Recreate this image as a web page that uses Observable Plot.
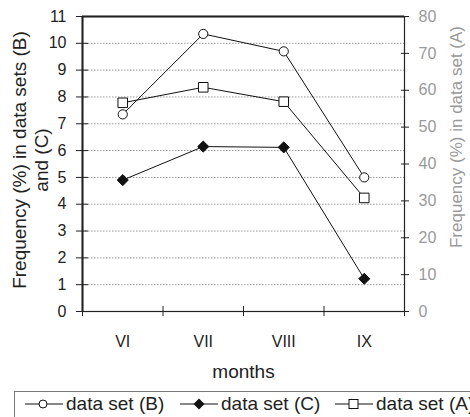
<!DOCTYPE html>
<html>
<head>
<meta charset="utf-8">
<script src="https://cdn.jsdelivr.net/npm/d3@7"></script>
<script src="https://cdn.jsdelivr.net/npm/@observablehq/plot@0.6"></script>
<style>
  html, body { margin: 0; padding: 0; background: #fff; overflow: hidden; width: 470px; height: 417px; position: relative; }
  body { font-family: "Liberation Sans", Arial, sans-serif; }
  #chart svg { display: block; }
  .legend { position: absolute; left: 14px; top: 391px; width: 520px; height: 40px; border: 1px solid #777; box-sizing: border-box; font-size: 19px; color: #222; }
  .item { position: absolute; top: 0; height: 24px; display: flex; align-items: center; white-space: nowrap; }
  .item svg { margin-right: 2px; }
</style>
</head>
<body>
<div id="chart"></div>
<div class="legend" id="legend"></div>
<script>
const months = ["VI", "VII", "VIII", "IX"];
const setB = [7.35, 10.35, 9.7, 5.0];     // left axis
const setC = [4.9, 6.15, 6.12, 1.22];     // left axis
const setA = [56.6, 60.8, 56.9, 30.8];    // right axis
const leftTicks = [0, 1, 2, 3, 4, 5, 6, 7, 8, 9, 10, 11];
const rightTicks = [0, 10, 20, 30, 40, 50, 60, 70, 80];
const seriesNames = ["data set (B)", "data set (C)", "data set (A)"];

const LEFT_MAX = 11, RIGHT_MAX = 80;
const toLeft = v => v * LEFT_MAX / RIGHT_MAX;

const rows = (vals, key) => vals.map((v, i) => ({i: i + 0.5, v, key}));
const dB = rows(setB, "B");
const dC = rows(setC, "C");
const dA = rows(setA.map(toLeft), "A");

const font = '"Liberation Sans", Arial, sans-serif';

const chart = Plot.plot({
  width: 470,
  height: 390,
  marginTop: 16,
  marginBottom: 79,
  marginLeft: 82,
  marginRight: 66,
  style: {fontFamily: font, fontSize: "16px", color: "#222", background: "#fff"},
  x: {type: "linear", domain: [0, months.length], axis: null},
  y: {domain: [0, LEFT_MAX], axis: null},
  marks: [
    Plot.gridY(leftTicks.filter(t => t > 0 && t < LEFT_MAX), {stroke: "#999", strokeOpacity: 1, strokeDasharray: "1.5,1.5"}),
    Plot.frame({stroke: "#222", strokeWidth: 1.2}),
    Plot.ruleX([0], {stroke: "#222", strokeWidth: 2}),
    Plot.ruleY([LEFT_MAX], {stroke: "#222", strokeWidth: 2}),
    // left axis (crossing ticks)
    Plot.axisY(leftTicks, {anchor: "left", tickSize: 12, dx: 6, tickPadding: 10, stroke: "#222", fill: "#222", label: null, fontSize: 16}),
    // right axis (set A)
    Plot.axisY(rightTicks.map(toLeft), {anchor: "right", tickSize: 8, dx: -4, tickPadding: 10, stroke: "#222", fill: "#999", label: null, fontSize: 16,
      tickFormat: d => String(Math.round(d * RIGHT_MAX / LEFT_MAX))}),
    // bottom crossing ticks at category boundaries
    Plot.axisX(d3.range(0, months.length + 1), {anchor: "bottom", tickSize: 10, dy: -5, tickFormat: () => "", stroke: "#222", label: null}),
    // month labels
    Plot.axisX(months.map((m, i) => i + 0.5), {anchor: "bottom", tickSize: 0, tickPadding: 24, tickFormat: d => months[Math.floor(d)], fill: "#222", label: null, fontSize: 16}),
    // titles
    Plot.text(["months"], {frameAnchor: "bottom", dy: 60, fontSize: 19, fill: "#222", lineAnchor: "middle", textAnchor: "middle"}),
    Plot.text(["Frequency (%) in data sets (B)\nand (C)"], {frameAnchor: "left", dx: -53, dy: -4, rotate: -90, lineHeight: 1.16, fontSize: 19, fill: "#222", lineAnchor: "middle", textAnchor: "middle"}),
    Plot.text(["Frequency (%) in data set (A)"], {frameAnchor: "right", dx: 52, dy: -27, rotate: -90, fontSize: 17, fill: "#999", lineAnchor: "middle", textAnchor: "middle"}),
    // series
    Plot.line(dB, {x: "i", y: "v", stroke: "#111", strokeWidth: 1}),
    Plot.line(dA, {x: "i", y: "v", stroke: "#111", strokeWidth: 1}),
    Plot.line(dC, {x: "i", y: "v", stroke: "#111", strokeWidth: 1}),
    Plot.dot(dB, {x: "i", y: "v", symbol: "circle", r: 4.6, fill: "#fff", stroke: "#111", strokeWidth: 1}),
    Plot.dot(dA, {x: "i", y: "v", symbol: "square", r: 5.4, fill: "#fff", stroke: "#111", strokeWidth: 1}),
    Plot.dot(dC, {x: "i", y: "v", symbol: "diamond2", r: 5, fill: "#111", stroke: "#111", strokeWidth: 1})
  ]
});
document.getElementById("chart").appendChild(chart);

// legend
const legend = document.getElementById("legend");
const symbols = {
  B: '<circle cx="18" cy="7" r="4" fill="#fff" stroke="#111"/>',
  C: '<path d="M19,1.5 L24.5,7 L19,12.5 L13.5,7 Z" fill="#111"/>',
  A: '<rect x="14" y="2.5" width="9" height="9" fill="#fff" stroke="#111"/>'
};
const keys = ["B", "C", "A"];
const lefts = [10, 165, 320];
keys.forEach((k, j) => {
  const it = document.createElement("div");
  it.className = "item";
  it.style.left = lefts[j] + "px";
  it.innerHTML = '<svg width="39" height="14"><line x1="0" y1="7" x2="38" y2="7" stroke="#111"/>' + symbols[k] + '</svg><span>' + seriesNames[j] + '</span>';
  legend.appendChild(it);
});
</script>
</body>
</html>
